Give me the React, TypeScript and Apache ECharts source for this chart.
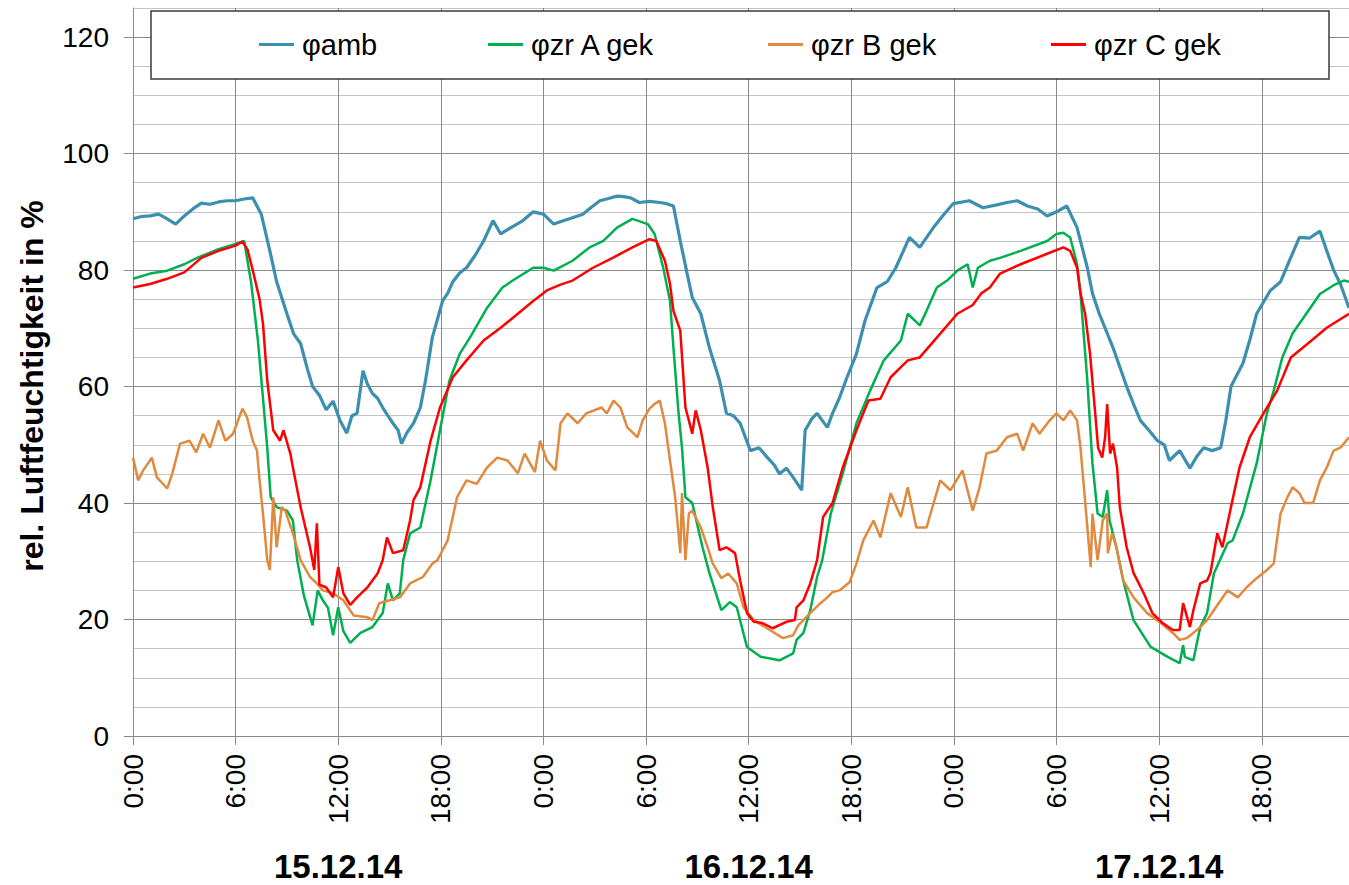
import React, { useEffect, useRef } from "react";
import * as echarts from "echarts";

const SERIES_NAMES = ["φamb", "φzr A gek", "φzr B gek", "φzr C gek"];
const SERIES_COLORS = ["#3D8FB0", "#00B050", "#E08A3F", "#FF0000"];

const X_TICKS = [0, 6, 12, 18, 24, 30, 36, 42, 48, 54, 60, 66];
const Y_TICKS = [0, 20, 40, 60, 80, 100, 120];
const DATE_POS = [12, 36, 60];
const DATE_LABELS = ["15.12.14", "16.12.14", "17.12.14"];

// [hour since 15.12.14 0:00, rel. humidity %]
const AMB = [
  [0, 88.8], [0.5, 89.2], [1, 89.3], [1.5, 89.6], [2, 88.8], [2.5, 87.9], [3, 89.3], [3.5, 90.5], [4, 91.5], [4.5, 91.3],
  [5, 91.7], [5.5, 91.9], [6, 91.9], [6.5, 92.2], [7, 92.4], [7.5, 89.6], [8, 83.3], [8.4, 78], [9, 72.5], [9.4, 69],
  [9.8, 67.4], [10.2, 63], [10.5, 60], [10.9, 58.5], [11.3, 56], [11.7, 57.5], [12.1, 54.2], [12.5, 52], [12.8, 55], [13.1, 55.4],
  [13.45, 62.7], [13.7, 60.5], [14, 58.8], [14.3, 58], [14.6, 56.4], [14.9, 55], [15.2, 53.7], [15.5, 52.5], [15.7, 50.2], [16, 52],
  [16.4, 53.7], [16.8, 56.4], [17.1, 61], [17.5, 68.4], [18.1, 74.7], [18.4, 76], [18.7, 78], [19.1, 79.5], [19.5, 80.4], [20, 82.5],
  [20.5, 85], [21.05, 88.5], [21.5, 86.2], [22.1, 87.3], [22.8, 88.5], [23.4, 90], [24, 89.6], [24.6, 87.9], [25.2, 88.5], [25.7, 89],
  [26.3, 89.6], [26.8, 90.8], [27.3, 91.9], [27.8, 92.3], [28.3, 92.7], [28.7, 92.6], [29.1, 92.4], [29.6, 91.6], [30.2, 91.8], [30.8, 91.6],
  [31.2, 91.4], [31.6, 91], [32, 85], [32.4, 79.4], [32.7, 75.3], [33.2, 72.5], [33.7, 66.7], [34.3, 61], [34.7, 55.4], [35.1, 55],
  [35.5, 53.7], [36.1, 49], [36.6, 49.5], [37.1, 47.8], [37.5, 46.5], [37.8, 45], [38.2, 46], [38.6, 44.4], [39.1, 42.2], [39.3, 52.5],
  [39.7, 54.5], [40, 55.4], [40.6, 53], [40.9, 55.4], [41.3, 58], [41.75, 61.6], [42.3, 65.6], [42.8, 71.3], [43.5, 77], [44.1, 78],
  [44.6, 80.4], [45.4, 85.6], [46, 83.9], [46.8, 87.3], [47.4, 89.5], [47.95, 91.4], [48.9, 91.9], [49.7, 90.7], [50.5, 91.2], [51.1, 91.6],
  [51.7, 91.9], [52.3, 91], [52.9, 90.5], [53.45, 89.3], [54, 90], [54.6, 91], [55.2, 87.3], [55.8, 80.4], [56.1, 76], [56.5, 72.5],
  [57.3, 66.7], [58.1, 60], [58.5, 57], [58.9, 54.2], [59.4, 52.5], [59.9, 50.7], [60.3, 50], [60.6, 47.3], [61.2, 49], [61.8, 46],
  [62.2, 48], [62.6, 49.5], [63.1, 49], [63.6, 49.5], [63.9, 54.2], [64.2, 60], [64.9, 64], [65.3, 68], [65.7, 72.5], [66.5, 76.5],
  [67.1, 78], [67.6, 81.5], [68.2, 85.6], [68.8, 85.5], [69.4, 86.7], [69.8, 83.3], [70.2, 80], [70.6, 77.6], [71.1, 73.5],
];

const ZR_A = [
  [0, 78.5], [1, 79.4], [2, 79.9], [3, 81], [3.75, 82.1], [5, 83.6], [6, 84.5], [6.5, 85], [6.9, 78], [7.3, 68],
  [7.6, 58], [7.85, 49.5], [8.05, 41], [8.4, 39.3], [9, 38.7], [9.35, 37], [9.6, 30.2], [10, 24], [10.5, 19], [10.8, 25],
  [11.1, 23.3], [11.4, 22], [11.7, 17.3], [12, 22.1], [12.3, 18], [12.7, 16], [13.3, 17.7], [14, 18.7], [14.6, 21.1], [14.9, 26.2],
  [15.2, 23.3], [15.6, 24.5], [15.8, 30.2], [16.2, 34.8], [16.8, 35.8], [17.4, 43.9], [17.95, 52.5], [18.5, 61], [19.1, 65.6], [19.7, 68.4],
  [20.7, 73.5], [21.6, 77], [22.2, 78.2], [23.4, 80.4], [24, 80.4], [24.6, 79.9], [25.7, 81.6], [26.7, 83.9], [27.5, 85], [28.3, 87.3],
  [29.2, 88.8], [30.1, 87.9], [30.5, 86.2], [31, 80.4], [31.4, 74.7], [31.6, 66.7], [31.9, 55.4], [32.1, 49.5], [32.3, 41], [32.7, 40],
  [33.3, 32.4], [33.7, 28], [34.4, 21.6], [34.9, 23], [35.3, 22.1], [35.9, 15.3], [36.7, 13.6], [37.8, 13], [38.6, 14.2], [38.8, 16.5],
  [39.2, 17.7], [39.6, 21.6], [40, 27.3], [40.3, 30.2], [40.8, 38.2], [41.5, 45.1], [42.3, 53.7], [43.1, 59.3], [43.9, 64.5], [44.9, 67.9],
  [45.3, 72.5], [46, 70.5], [46.4, 73], [47, 77], [47.6, 78.2], [48.2, 79.9], [48.8, 81], [49.1, 77], [49.4, 80.4], [50.1, 81.6],
  [50.7, 82.1], [51.9, 83.3], [53.45, 85], [54, 86.2], [54.4, 86.4], [54.8, 85.6], [55.2, 81], [55.4, 76], [55.8, 61], [56.1, 46.8],
  [56.4, 38.2], [56.7, 37.6], [56.96, 42.2], [57.1, 37], [57.5, 32.4], [57.9, 26.7], [58.5, 19.9], [59.5, 15.3], [60.5, 13.6], [61.2, 12.5],
  [61.4, 15.6], [61.5, 13.6], [62, 13], [62.4, 18.7], [62.8, 21.1], [63.2, 27.9], [64, 33.1], [64.3, 33.6], [64.9, 38.2], [65.7, 46.8],
  [66.3, 55.4], [66.7, 59.3], [67.2, 65], [67.8, 69.1], [68.6, 72.5], [69.4, 75.9], [70.2, 77.4], [70.8, 78.2], [71.1, 78],
];

const ZR_B = [
  [0, 47.8], [0.3, 43.9], [0.6, 45.6], [1.1, 47.8], [1.4, 44.4], [2, 42.5], [2.3, 45.1], [2.75, 50.2], [3.3, 50.7], [3.7, 48.7],
  [4.1, 51.9], [4.5, 49.5], [5, 54.2], [5.4, 50.7], [5.85, 51.9], [6.4, 56.2], [6.67, 54.7], [7, 50.7], [7.25, 49], [7.4, 43.9],
  [7.6, 38.2], [7.85, 30.2], [8, 28.5], [8.2, 41], [8.4, 32.4], [8.7, 39.3], [8.9, 38.7], [9.35, 34.8], [9.8, 30.2], [10.35, 27.3],
  [10.75, 26.2], [11.1, 25], [11.7, 24.5], [12.3, 23.3], [12.9, 20.7], [13.7, 20.4], [14, 19.9], [14.4, 22.8], [15, 23.3], [15.6, 23.8],
  [16.2, 26.2], [16.95, 27.3], [17.5, 29.6], [17.8, 30.2], [18.4, 33.6], [18.95, 41], [19.5, 43.9], [20.1, 43.3], [20.7, 46.1], [21.3, 47.8],
  [21.9, 47.3], [22.5, 45.1], [22.9, 48.5], [23.5, 45.3], [23.8, 50.7], [24.2, 47.3], [24.7, 45.6], [25, 53.7], [25.4, 55.4], [26, 53.7],
  [26.5, 55.4], [27.4, 56.4], [27.7, 55.4], [28.1, 57.6], [28.5, 56.4], [28.9, 53], [29.5, 51.3], [29.8, 54.2], [30.2, 56.2], [30.5, 57],
  [30.8, 57.6], [31.1, 53.7], [31.4, 47.3], [31.7, 41], [32, 31.4], [32.1, 41.7], [32.3, 30.2], [32.5, 38.2], [32.7, 38.7], [33.2, 35.8],
  [33.6, 32.4], [33.9, 29.6], [34.4, 27.1], [34.8, 27.9], [35.3, 26.2], [35.7, 22.1], [36.3, 19.9], [36.8, 19], [37.4, 17.9], [38, 16.8],
  [38.6, 17.3], [38.9, 19], [39.2, 19.9], [39.6, 21.1], [40.2, 22.8], [40.6, 23.8], [40.9, 24.7], [41.3, 25], [41.9, 26.4], [42.3, 29.6],
  [42.7, 33.6], [43.3, 37], [43.7, 34.1], [44.3, 41.7], [44.9, 37.6], [45.3, 42.7], [45.8, 35.8], [46.4, 35.8], [47.2, 43.9], [47.8, 42.2],
  [48.5, 45.6], [49.1, 38.7], [49.5, 42.7], [49.9, 48.5], [50.5, 49], [51.1, 51.3], [51.7, 51.9], [52.05, 49], [52.6, 53.7], [53, 51.9],
  [53.6, 54.2], [54, 55.4], [54.4, 54.2], [54.8, 55.9], [55.2, 54.2], [55.4, 49.5], [55.7, 39.3], [56, 29], [56.1, 38.2], [56.4, 30.2],
  [56.7, 37], [56.96, 38.2], [57, 31.4], [57.25, 34.8], [57.5, 32.4], [57.9, 26.7], [58.5, 23.8], [59.3, 21.1], [60.1, 19.4], [60.8, 17.7],
  [61.2, 16.5], [61.6, 16.8], [62, 17.7], [62.4, 18.7], [62.8, 19.9], [63.2, 21.6], [63.6, 23.3], [64, 25], [64.6, 23.8], [65.1, 25.5],
  [65.7, 27.1], [66.3, 28.5], [66.7, 29.6], [67.1, 38.2], [67.5, 41], [67.8, 42.7], [68.2, 41.7], [68.5, 40], [69, 40], [69.4, 43.9],
  [69.8, 46.1], [70.2, 49], [70.6, 49.5], [71.1, 51.3],
];

const ZR_C = [
  [0, 77], [1, 77.6], [2, 78.5], [3, 79.6], [4, 82.1], [5, 83.3], [6, 84.2], [6.4, 84.9], [6.7, 83.5], [7, 80],
  [7.4, 75], [7.6, 70.8], [7.85, 61], [8.2, 52.5], [8.6, 50.7], [8.8, 52.5], [9.2, 48.5], [9.35, 46.1], [9.8, 39.3], [10.35, 32.4],
  [10.6, 28.5], [10.75, 36.5], [10.9, 26], [11.3, 25.5], [11.7, 23.8], [12, 29], [12.3, 24.5], [12.7, 22.5], [13.1, 23.8], [13.7, 25.5],
  [14.3, 27.9], [14.6, 30.2], [14.85, 34.1], [15.2, 31.4], [15.8, 31.9], [16.2, 37], [16.4, 40.5], [16.8, 42.7], [17.4, 50.7], [17.95, 56.4],
  [18.7, 61.6], [19.5, 64.5], [20.5, 67.9], [21.5, 70.1], [22.5, 72.5], [23.4, 74.7], [24.2, 76.5], [25, 77.5], [25.7, 78.2], [26.9, 80.4],
  [28.05, 82.1], [29.2, 83.9], [30.2, 85.3], [30.6, 85], [31.1, 81.6], [31.4, 77.6], [31.6, 73], [32, 69.6], [32.3, 56.4], [32.5, 54.2],
  [32.7, 51.9], [32.9, 55.9], [33.2, 52.5], [33.6, 46.1], [33.9, 39.3], [34.3, 31.9], [34.7, 32.4], [35.2, 31.4], [35.5, 26.7], [35.9, 21.1],
  [36.3, 19.6], [36.8, 19.4], [37.4, 18.5], [38.2, 19.6], [38.7, 19.9], [38.8, 22.1], [39.2, 23.3], [39.6, 26.2], [40, 30.2], [40.35, 37.6],
  [40.9, 40], [41.5, 46.1], [42.3, 52.5], [43, 57.6], [43.7, 57.9], [44.3, 61.6], [45.3, 64.5], [46, 65], [47, 68.4], [48.2, 72.5],
  [49.1, 74], [49.6, 76], [50.1, 77], [50.7, 79.4], [51.9, 81], [53.45, 82.8], [54.4, 83.9], [54.8, 83.3], [55.2, 80.4], [55.4, 76],
  [55.67, 72.5], [55.96, 65.6], [56.26, 55.4], [56.43, 49.5], [56.67, 47.8], [56.84, 51.3], [56.96, 57], [57.13, 48.5], [57.3, 50.2], [57.54, 46.1],
  [57.7, 39.3], [58.1, 32.4], [58.5, 28], [59.1, 24.5], [59.6, 21.1], [60.2, 19.4], [60.8, 18.2], [61.2, 18.2], [61.4, 22.8], [61.8, 18.7],
  [62, 21.6], [62.4, 26.2], [62.8, 26.7], [63, 28], [63.4, 34.8], [63.7, 32.4], [64.2, 39.3], [64.7, 46.1], [65.3, 51.3], [66.1, 55.4],
  [66.9, 59.3], [67.7, 65], [68.7, 67.4], [69.8, 70.1], [71.1, 72.5],
];

const SERIES_DATA = [AMB, ZR_A, ZR_B, ZR_C];
const FONT = "Liberation Sans, Arial, sans-serif";

export default function App() {
  const ref = useRef<HTMLDivElement>(null);
  useEffect(() => {
    if (!ref.current) return;
    const chart = echarts.init(ref.current, undefined, { renderer: "svg" });
    const legendLefts = [259, 488, 768, 1051];
    chart.setOption({
      animation: false,
      backgroundColor: "#ffffff",
      textStyle: { fontFamily: FONT },
      grid: { left: 133, right: 0, top: 8, bottom: 149, containLabel: false },
      legend: SERIES_NAMES.map((n, i) => ({
        data: [n],
        left: legendLefts[i],
        top: 30,
        padding: 0,
        icon: "rect",
        itemWidth: 35,
        itemHeight: 3,
        itemGap: 0,
        z: 10,
        textStyle: { fontSize: 29, color: "#000", fontFamily: FONT, padding: [0, 0, 0, 3] },
      })),
      graphic: [
        {
          type: "rect",
          z: 5,
          shape: { x: 151, y: 11, width: 1178, height: 68 },
          style: { fill: "#ffffff", stroke: "#3a3a3a", lineWidth: 1.5 },
        },
        {
          type: "text",
          z: 5,
          x: 32,
          y: 386,
          rotation: Math.PI / 2,
          style: {
            text: "rel. Luftfeuchtigkeit in %",
            font: `bold 32px ${FONT}`,
            fill: "#000",
            align: "center",
            verticalAlign: "middle",
          },
        },
      ],
      xAxis: [
        {
          type: "value",
          min: 0,
          max: 71.1,
          interval: 6,
          position: "bottom",
          axisLine: { show: true, lineStyle: { color: "#8a8a8a", width: 1 } },
          axisTick: { show: true, length: 9, customValues: X_TICKS, lineStyle: { color: "#8a8a8a" } },
          axisLabel: {
            customValues: X_TICKS,
            rotate: 90,
            margin: 18,
            fontSize: 28,
            color: "#000",
            fontFamily: FONT,
            formatter: (v: number) => (v % 6 === 0 ? `${v % 24}:00` : ""),
          },
          splitLine: { show: true, lineStyle: { color: "#8a8a8a", width: 1 } },
        },
        {
          type: "value",
          min: 0,
          max: 71.1,
          position: "bottom",
          axisLine: { show: false },
          axisTick: { show: false },
          splitLine: { show: false },
          axisLabel: {
            customValues: DATE_POS,
            margin: 114,
            fontSize: 33,
            fontWeight: "bold",
            color: "#000",
            fontFamily: FONT,
            formatter: (v: number) => {
              const i = DATE_POS.indexOf(v);
              return i >= 0 ? DATE_LABELS[i] : "";
            },
          },
        },
      ],
      yAxis: [
        {
          type: "value",
          min: 0,
          max: 125,
          interval: 5,
          position: "left",
          axisLine: { show: true, lineStyle: { color: "#8a8a8a", width: 1 } },
          axisTick: { show: false },
          axisLabel: { show: false },
          splitLine: { show: true, lineStyle: { color: "#c4c4c4", width: 1 } },
        },
        {
          type: "value",
          min: 0,
          max: 125,
          interval: 20,
          position: "left",
          axisLine: { show: false },
          axisTick: { show: true, length: 9, customValues: Y_TICKS, lineStyle: { color: "#8a8a8a" } },
          axisLabel: {
            customValues: Y_TICKS,
            margin: 24,
            fontSize: 28,
            color: "#000",
            fontFamily: FONT,
            formatter: (v: number) => (v % 20 === 0 && v <= 120 ? String(v) : ""),
          },
          splitLine: { show: true, lineStyle: { color: "#8a8a8a", width: 1 } },
        },
      ],
      series: SERIES_NAMES.map((n, i) => ({
        name: n,
        type: "line",
        xAxisIndex: 0,
        yAxisIndex: 0,
        data: SERIES_DATA[i],
        showSymbol: false,
        symbol: "none",
        color: SERIES_COLORS[i],
        itemStyle: { color: SERIES_COLORS[i] },
        lineStyle: { color: SERIES_COLORS[i], width: i === 0 ? 3.2 : 2.5 },
        z: 2 + i,
      })),
    });
    return () => chart.dispose();
  }, []);
  return (
    <div
      ref={ref}
      style={{ position: "absolute", left: 0, top: 0, width: 1349, height: 885, background: "#fff" }}
    />
  );
}
